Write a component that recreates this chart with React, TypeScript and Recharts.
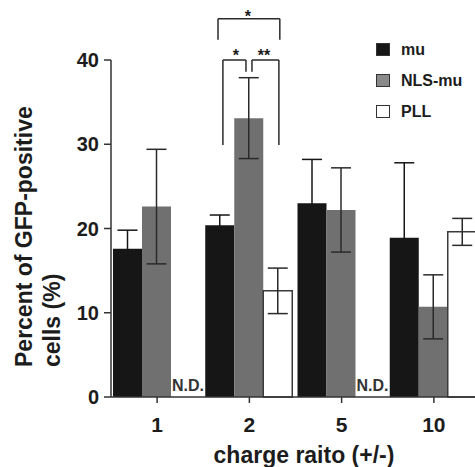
import {
  Bar,
  BarChart,
  ErrorBar,
  LabelList,
  Legend,
  ReferenceDot,
  ReferenceLine,
  XAxis,
  YAxis,
} from "recharts";

const ratios = ["1", "2", "5", "10"];
const muValues = [17.6, 20.4, 23.0, 18.9];
const muErrors = [2.2, 1.2, 5.2, 8.9];
const nlsMuValues = [22.6, 33.1, 22.2, 10.7];
const nlsMuErrors = [6.8, 4.8, 5.0, 3.8];
// 0 = not determined (N.D.)
const pllValues = [0, 12.6, 0, 19.6];
const pllErrors = [0, 2.7, 0, 1.6];
const yTicks = [0, 10, 20, 30, 40];

const series = [
  { key: "mu", err: "muErr", name: "mu", fill: "#161616", stroke: "none", errColor: "#161616" },
  { key: "nlsMu", err: "nlsMuErr", name: "NLS-mu", fill: "#707070", stroke: "none", errColor: "#2a2a2a" },
  { key: "pll", err: "pllErr", name: "PLL", fill: "#ffffff", stroke: "#3a3a3a", errColor: "#2a2a2a" },
];

// significance brackets, x in band units (category i spans i..i+1)
const bracketPaths = [
  [[1.16, 42.4], [1.16, 44.9], [1.83, 44.9], [1.83, 42.4]],
  [[1.213, 29.9], [1.213, 40.0], [1.463, 40.0], [1.463, 38.6]],
  [[1.528, 38.6], [1.528, 40.0], [1.82, 40.0], [1.82, 29.9]],
];
const stars = [
  { x: 1.484, y: 45.2, text: "*" },
  { x: 1.354, y: 40.5, text: "*" },
  { x: 1.658, y: 40.5, text: "**" },
];

const data = ratios.map((ratio, i) => ({
  ratio,
  slot: i + 0.5,
  mu: muValues[i],
  muErr: muErrors[i],
  nlsMu: nlsMuValues[i],
  nlsMuErr: nlsMuErrors[i],
  pll: pllValues[i],
  pllErr: pllErrors[i],
}));

const font = '"Liberation Sans", Arial, Helvetica, sans-serif';
const ink = "#1c1c1c";

// N.D. text sits in the empty PLL slot, right after the NLS-mu bar
const renderNotDetermined = (props: any) => {
  const { value } = props;
  if (value !== 0) return null;
  const box = props.viewBox ?? props;
  const x = Number(box.x ?? props.x) + Number(box.width ?? props.width);
  const y = Number(box.y ?? props.y) + Number(box.height ?? props.height);
  return (
    <text x={x + 1} y={y - 6} fontFamily={font} fontSize={16} fontWeight="bold" fill="#333">
      N.D.
    </text>
  );
};

const renderYLabel = () => (
  <g fontFamily={font} fontWeight="bold" fontSize={23} fill={ink}>
    <text transform="translate(32 367) rotate(-90)">Percent of GFP-positive</text>
    <text transform="translate(60 367) rotate(-90)">cells (%)</text>
  </g>
);

const renderXLabel = () => (
  <text
    x={304}
    y={463}
    textAnchor="middle"
    fontFamily={font}
    fontWeight="bold"
    fontSize={23}
    fill={ink}
  >
    charge raito (+/-)
  </text>
);

const LegendBox = () => (
  <div style={{ fontFamily: font, fontWeight: "bold", fontSize: 16, color: ink }}>
    {series.map((s) => (
      <div key={s.key} style={{ display: "flex", alignItems: "center", height: 31 }}>
        <span
          style={{
            display: "inline-block",
            width: 12,
            height: 11,
            background: s.key === "nlsMu" ? "#8a8a8a" : s.fill,
            border: "1px solid #333",
            marginRight: 11,
          }}
        />
        {s.name}
      </div>
    ))}
  </div>
);

export default function App() {
  return (
    <div
      style={{
        position: "absolute",
        left: 0,
        top: 0,
        width: 475,
        height: 467,
        overflow: "hidden",
        background: "#fff",
      }}
    >
      <BarChart
        width={490}
        height={467}
        data={data}
        margin={{ top: 60, right: 10, bottom: 0, left: 0 }}
        barCategoryGap={2}
        barGap={0}
      >
        <XAxis
          xAxisId="cat"
          dataKey="ratio"
          height={70}
          tickSize={6}
          tickMargin={14}
          axisLine={{ stroke: "#333", strokeWidth: 1.5 }}
          tickLine={{ stroke: "#333", strokeWidth: 1.5 }}
          tick={{ fontFamily: font, fontSize: 21, fontWeight: "bold", fill: ink }}
          label={renderXLabel}
        />
        <XAxis
          xAxisId="num"
          dataKey="slot"
          type="number"
          domain={[0, 4]}
          allowDataOverflow
          hide
        />
        <YAxis
          width={111}
          domain={[0, 40]}
          ticks={yTicks}
          tickSize={7}
          tickMargin={5}
          axisLine={{ stroke: "#333", strokeWidth: 1.5 }}
          tickLine={{ stroke: "#333", strokeWidth: 1.5 }}
          tick={{ fontFamily: font, fontSize: 20, fontWeight: "bold", fill: ink }}
          label={renderYLabel}
        />
        <Legend
          layout="vertical"
          align="center"
          verticalAlign="middle"
          content={<LegendBox />}
          wrapperStyle={{ left: 376, top: 34, right: "auto", bottom: "auto", width: 100 }}
        />
        {series.map((s) => (
          <Bar
            key={s.key}
            xAxisId="cat"
            dataKey={s.key}
            name={s.name}
            fill={s.fill}
            stroke={s.stroke}
            strokeWidth={1.5}
            isAnimationActive={false}
          >
            <ErrorBar
              dataKey={s.err}
              width={10}
              stroke={s.errColor}
              strokeWidth={1.5}
              isAnimationActive={false}
            />
            {s.key === "nlsMu" && <LabelList dataKey="pll" content={renderNotDetermined} />}
          </Bar>
        ))}
        {bracketPaths.flatMap((path, p) =>
          path.slice(1).map((pt, i) => (
            <ReferenceLine
              key={`b${p}-${i}`}
              xAxisId="num"
              segment={[
                { x: path[i][0], y: path[i][1] },
                { x: pt[0], y: pt[1] },
              ]}
              stroke="#2a2a2a"
              strokeWidth={1.5}
              ifOverflow="visible"
            />
          ))
        )}
        {stars.map((s, i) => (
          <ReferenceDot
            key={`s${i}`}
            xAxisId="num"
            x={s.x}
            y={s.y}
            r={0}
            fill="none"
            stroke="none"
            ifOverflow="visible"
            label={{
              value: s.text,
              position: "center",
              fontFamily: font,
              fontSize: 16,
              fontWeight: "bold",
              fill: ink,
            }}
          />
        ))}
      </BarChart>
    </div>
  );
}
